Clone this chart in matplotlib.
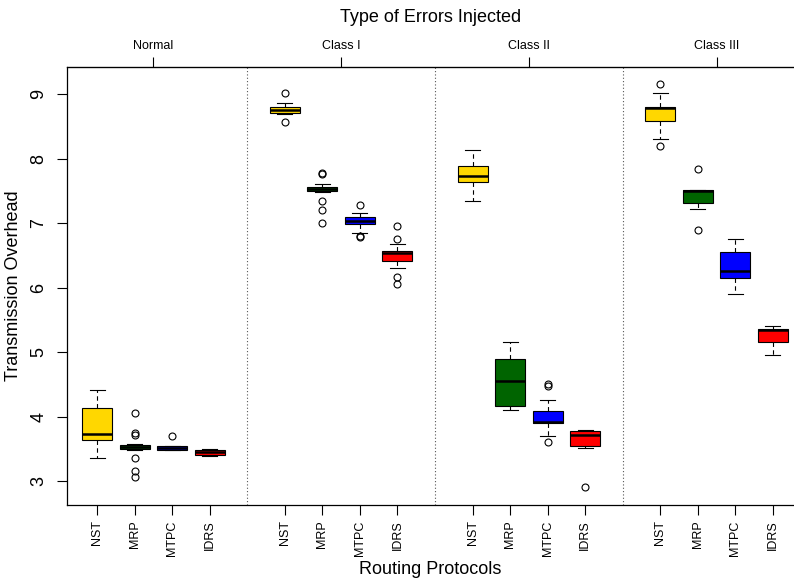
import matplotlib
matplotlib.use("Agg")
import matplotlib.pyplot as plt

plt.rcParams["font.family"] = ["Liberation Sans", "DejaVu Sans"]

# Routing protocols within each error class, and the error classes
protocols = ["NST", "MRP", "MTPC", "IDRS"]
error_types = ["Normal", "Class I", "Class II", "Class III"]
box_colors = ["#FFD700", "#006400", "#0000FF", "#FF0000"]

# Five-number summaries, ordered by error class then protocol
whislo = [3.36, 3.49, 3.48, 3.39,
          8.69, 7.48, 6.85, 6.31,
          7.34, 4.10, 3.70, 3.52,
          8.30, 7.22, 5.90, 4.96]
q1 = [3.63, 3.50, 3.49, 3.40,
      8.71, 7.50, 6.98, 6.42,
      7.64, 4.16, 3.90, 3.55,
      8.59, 7.31, 6.15, 5.16]
med = [3.73, 3.53, 3.51, 3.45,
       8.75, 7.53, 7.04, 6.54,
       7.73, 4.55, 3.92, 3.72,
       8.79, 7.50, 6.25, 5.34]
q3 = [4.13, 3.56, 3.54, 3.49,
      8.80, 7.56, 7.09, 6.56,
      7.89, 4.90, 4.09, 3.78,
      8.80, 7.51, 6.55, 5.36]
whishi = [4.41, 3.57, 3.55, 3.50,
          8.86, 7.61, 7.15, 6.67,
          8.13, 5.16, 4.25, 3.79,
          9.01, 7.52, 6.75, 5.41]
fliers = [[], [4.06, 3.75, 3.71, 3.36, 3.15, 3.06], [3.70], [],
          [9.02, 8.56], [7.78, 7.76, 7.35, 7.20, 7.00], [7.28, 6.80, 6.78], [6.95, 6.76, 6.16, 6.06],
          [], [], [4.51, 4.47, 3.60], [2.91],
          [9.16, 8.19], [7.84, 6.90], [], []]

stats = []
for i in range(len(med)):
    stats.append({"whislo": whislo[i], "q1": q1[i], "med": med[i], "q3": q3[i],
                  "whishi": whishi[i], "fliers": fliers[i]})

# positions 1-4, 6-9, 11-14, 16-19: one empty slot between classes
n = len(protocols)
positions = [g * (n + 1) + k + 1 for g in range(len(error_types)) for k in range(n)]
centers = [g * (n + 1) + (n + 1) / 2 for g in range(len(error_types))]
separators = [g * (n + 1) + n + 1 for g in range(len(error_types) - 1)]

fig = plt.figure(figsize=(7.94, 5.82), dpi=100)
ax = fig.add_axes([67 / 794, 1 - 505 / 582, 1 - 67 / 794, (505 - 67) / 582])

bp = ax.bxp(stats, positions=positions, widths=0.8, patch_artist=True,
            boxprops=dict(edgecolor="black", linewidth=0.8),
            medianprops=dict(color="black", linewidth=1.8, solid_capstyle="butt"),
            whiskerprops=dict(color="black", linewidth=0.8, linestyle=(0, (4, 3))),
            capprops=dict(color="black", linewidth=0.8),
            capwidths=0.4,
            flierprops=dict(marker="o", markersize=5, markerfacecolor="none",
                            markeredgecolor="black", markeredgewidth=0.8))
for i, patch in enumerate(bp["boxes"]):
    patch.set_facecolor(box_colors[i % n])

for x in separators:
    ax.axvline(x, color="#555555", linestyle=(0, (1, 2)), linewidth=0.8, zorder=0)

ax.set_xlim(0.2, 19.56)
ax.set_ylim(2.63, 9.42)

ax.set_xticks(positions)
ax.set_xticklabels(protocols * len(error_types), rotation=90, fontsize=9)
ax.set_yticks(range(3, 10))
ax.set_yticklabels([str(v) for v in range(3, 10)], rotation=90, va="center", fontsize=13)
ax.tick_params(axis="both", direction="out", length=7, width=0.8, pad=4)
ax.tick_params(axis="y", pad=7)
ax.spines["right"].set_visible(False)
for side in ["left", "bottom", "top"]:
    ax.spines[side].set_linewidth(0.9)

ax.set_xlabel("Routing Protocols", fontsize=13, labelpad=4)
ax.set_ylabel("Transmission Overhead", fontsize=13, labelpad=6)

top = ax.secondary_xaxis("top")
top.set_xticks(centers)
top.set_xticklabels(error_types, fontsize=9)
top.tick_params(direction="out", length=7, width=0.8, pad=4)
top.set_xlabel("Type of Errors Injected", fontsize=13, labelpad=13)

fig.savefig("out.png", dpi=100, facecolor="white")
